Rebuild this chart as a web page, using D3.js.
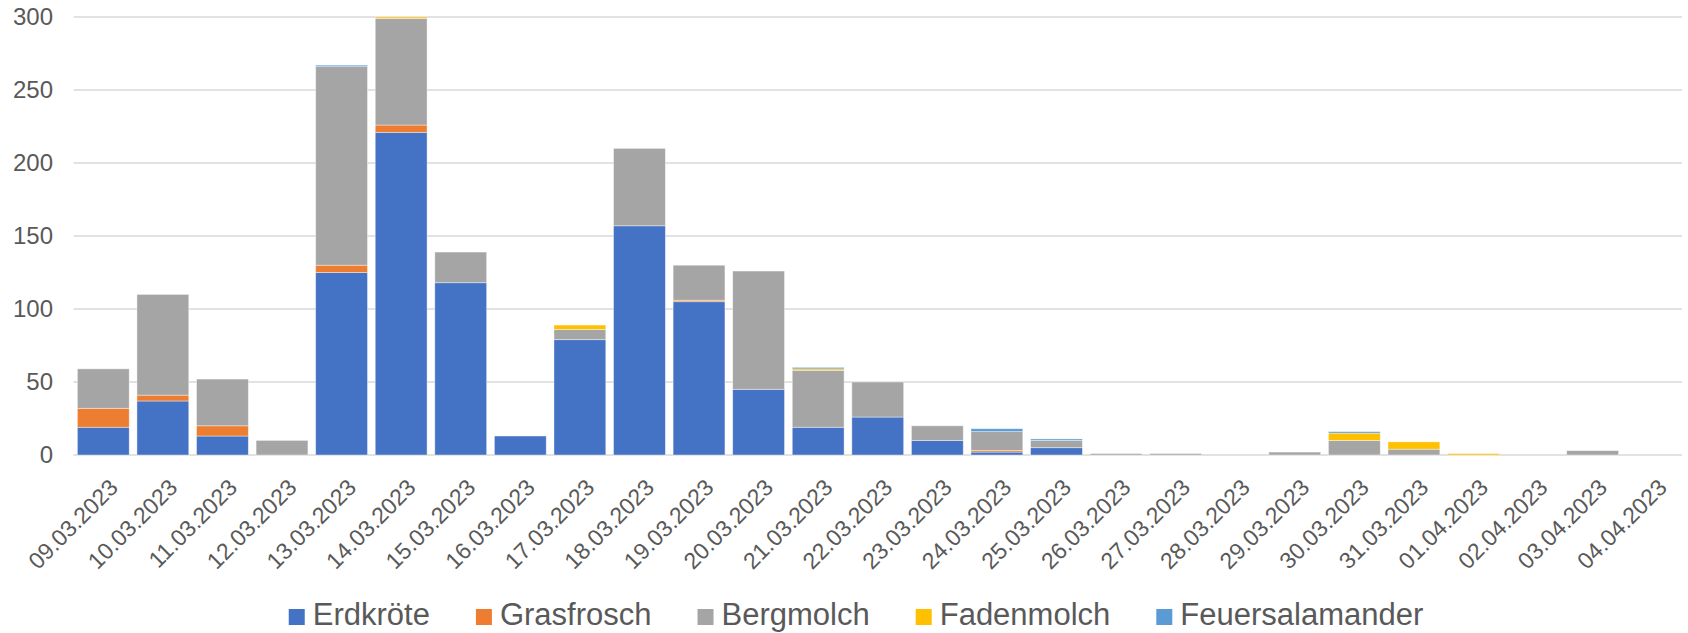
<!DOCTYPE html>
<html lang="de">
<head>
<meta charset="UTF-8">
<title>Amphibien</title>
<script src="https://d3js.org/d3.v7.min.js"></script>
<style>
  body { margin: 0; background: #fff; }
  text { font-family: "Liberation Sans", Arial, sans-serif; fill: #595959; }
</style>
</head>
<body>
<div id="chart"></div>
<script>
// categories and series
var dates = ["09.03.2023","10.03.2023","11.03.2023","12.03.2023","13.03.2023","14.03.2023","15.03.2023",
  "16.03.2023","17.03.2023","18.03.2023","19.03.2023","20.03.2023","21.03.2023","22.03.2023","23.03.2023",
  "24.03.2023","25.03.2023","26.03.2023","27.03.2023","28.03.2023","29.03.2023","30.03.2023","31.03.2023",
  "01.04.2023","02.04.2023","03.04.2023","04.04.2023"];
var erdkroete       = [19, 37, 13, 0, 125, 221, 118, 13, 79, 157, 105, 45, 19, 26, 10, 2, 5, 0, 0, 0, 0, 0, 0, 0, 0, 0, 0];
var grasfrosch      = [13,  4,  7, 0,   5,   5,   0,  0,  0,   0,   1,  0,  0,  0,  0, 1, 0, 0, 0, 0, 0, 0, 0, 0, 0, 0, 0];
var bergmolch       = [27, 69, 32, 10, 136, 73,  21,  0,  7,  53,  24, 81, 39, 24, 10, 13, 5, 1, 1, 0, 2, 10, 4, 0, 0, 3, 0];
var fadenmolch      = [0,   0,  0, 0,   0,   1,   0,  0,  3,   0,   0,  0,  1,  0,  0, 0, 0, 0, 0, 0, 0, 5, 5, 1, 0, 0, 0];
var feuersalamander = [0,   0,  0, 0,   1,   0,   0,  0,  0,   0,   0,  0,  1,  0,  0, 2, 1, 0, 0, 0, 0, 1, 0, 0, 0, 0, 0];
var seriesNames = ["Erdkröte", "Grasfrosch", "Bergmolch", "Fadenmolch", "Feuersalamander"];
var yTicks = [0, 50, 100, 150, 200, 250, 300];

var colors = ["#4472C4", "#ED7D31", "#A5A5A5", "#FFC000", "#5B9BD5"];
var W = 1688, H = 633;

// build table for d3.stack
var table = dates.map(function(d, i) {
  return {date: d, "Erdkröte": erdkroete[i], "Grasfrosch": grasfrosch[i], "Bergmolch": bergmolch[i],
          "Fadenmolch": fadenmolch[i], "Feuersalamander": feuersalamander[i]};
});
var stacked = d3.stack().keys(seriesNames)(table);

var svg = d3.select("#chart").append("svg")
  .attr("width", W).attr("height", H);

var x = d3.scaleBand()
  .domain(dates)
  .range([73.5, 1682])
  .paddingInner(0.13)
  .paddingOuter(0.065);

var y = d3.scaleLinear()
  .domain([0, 300])
  .range([455, 17]);

// gridlines
svg.append("g")
  .selectAll("line")
  .data(yTicks)
  .enter().append("line")
    .attr("x1", 73.5).attr("x2", 1682)
    .attr("y1", function(d) { return y(d); })
    .attr("y2", function(d) { return y(d); })
    .style("stroke", "#d9d9d9")
    .style("stroke-width", 1.5);

// y axis labels
var yAxis = svg.append("g")
  .attr("transform", "translate(53,0)")
  .call(d3.axisLeft(y).tickValues(yTicks).tickSize(0).tickPadding(0));
yAxis.select(".domain").remove();
yAxis.selectAll("text")
  .style("font-size", "24px")
  .style("fill", "#595959")
  .attr("font-family", null);

// bars
svg.append("g")
  .selectAll("g")
  .data(stacked)
  .enter().append("g")
    .style("fill", function(d, i) { return colors[i]; })
  .selectAll("rect")
  .data(function(d) { return d.filter(function(p) { return p[1] - p[0] > 0; }); })
  .enter().append("rect")
    .attr("x", function(d) { return x(d.data.date); })
    .attr("y", function(d) { return y(d[1]); })
    .attr("width", x.bandwidth())
    .attr("height", function(d) { return y(d[0]) - y(d[1]); })
    .style("stroke", "#ffffff")
    .style("stroke-opacity", 0.5)
    .style("stroke-width", 0.8);

// x axis labels, rotated
var xAxis = svg.append("g")
  .attr("transform", "translate(0,455)")
  .call(d3.axisBottom(x).tickSize(0).tickPadding(0));
xAxis.select(".domain").remove();
xAxis.selectAll("text")
  .attr("y", 0).attr("dy", null)
  .attr("text-anchor", "end")
  .attr("font-family", null)
  .style("font-size", "23px")
  .style("fill", "#595959")
  .attr("transform", "translate(16,34) rotate(-45)");

// legend
var legend = svg.append("g");
var items = legend.selectAll("g")
  .data(seriesNames)
  .enter().append("g");
items.append("rect")
  .attr("width", 16).attr("height", 16)
  .attr("y", 609)
  .style("fill", function(d, i) { return colors[i]; });
items.append("text")
  .attr("x", 24).attr("y", 625)
  .style("font-size", "31px")
  .text(function(d) { return d; });
var widths = [];
items.each(function() { widths.push(this.getBBox().width); });
var gap = 46;
var total = d3.sum(widths) + gap * (widths.length - 1);
var pos = 856 - total / 2;
items.attr("transform", function(d, i) {
  var t = "translate(" + pos + ",0)";
  pos += widths[i] + gap;
  return t;
});
</script>
</body>
</html>
